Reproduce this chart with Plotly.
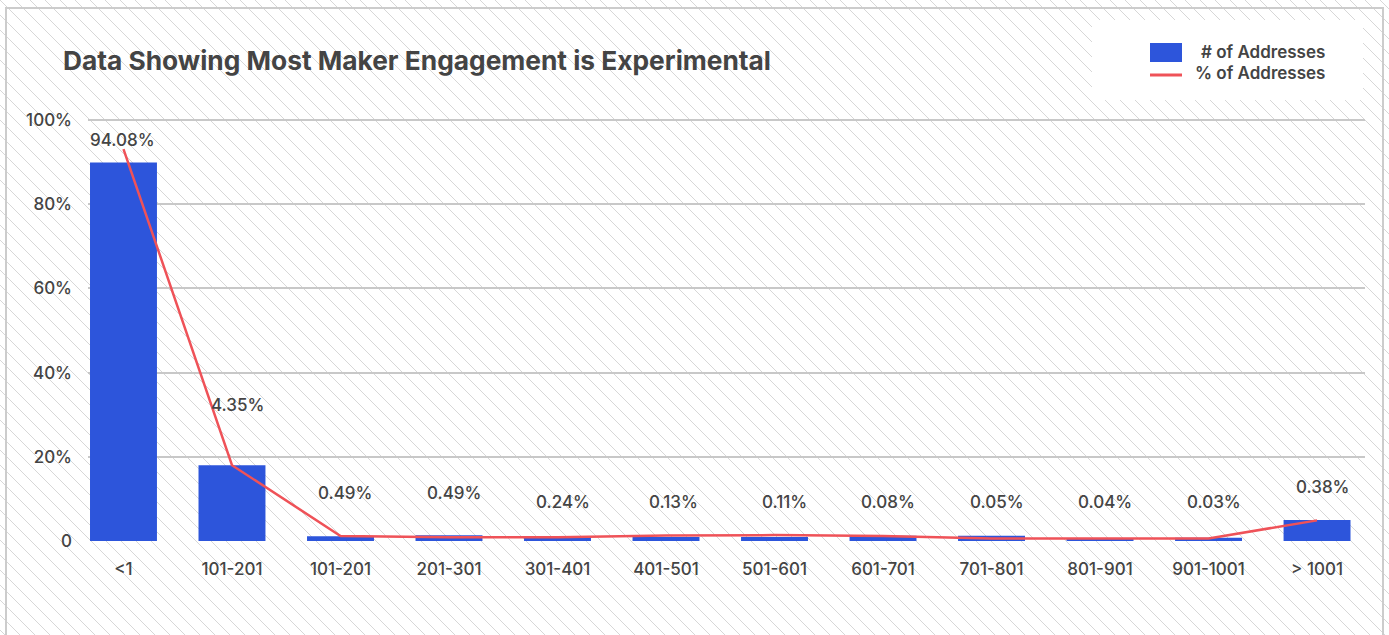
import base64
import plotly.graph_objects as go

# ---------------- data ----------------
categories = ["<1", "101-201", "101-201", "201-301", "301-401", "401-501",
              "501-601", "601-701", "701-801", "801-901", "901-1001", "> 1001"]
num_addresses = [89.9, 18.0, 1.1, 1.35, 1.2, 0.95, 0.95, 1.27, 1.27, 0.63, 0.8, 5.0]
pct_addresses = [93.1, 18.0, 1.2, 0.9, 0.9, 1.3, 1.4, 1.2, 0.6, 0.6, 0.6, 4.9]
pct_labels = ["94.08%", "4.35%", "0.49%", "0.49%", "0.24%", "0.13%",
              "0.11%", "0.08%", "0.05%", "0.04%", "0.03%", "0.38%"]
y_tickvals = [0, 20, 40, 60, 80, 100]
y_ticktext = ["0", "20%", "40%", "60%", "80%", "100%"]

# ---------------- style / layout ----------------
W, H = 1389, 635
BLUE = "#2D55DB"
RED = "#EF5258"
TEXT = "#444444"
GRID = "#c8c8c8"
FONT = "Inter"
label_level = [95.2, 32.2, 11.4, 11.4, 9.3, 9.3, 9.3, 9.3, 9.3, 9.3, 9.3, 12.8]

x_idx = list(range(len(categories)))

# hatched background as an svg image
svg = f'''<svg xmlns="http://www.w3.org/2000/svg" width="{W}" height="{H}" viewBox="0 0 {W} {H}">
<defs><pattern id="h" width="15" height="15" patternUnits="userSpaceOnUse">
<path d="M0,0 L15,15 M-2,13 L2,17 M13,-2 L17,2" stroke="#d7d7d7" stroke-width="1"/>
</pattern></defs>
<rect width="{W}" height="{H}" fill="white"/>
<rect width="{W}" height="{H}" fill="url(#h)"/>
</svg>'''
svg_uri = "data:image/svg+xml;base64," + base64.b64encode(svg.encode()).decode()

fig = go.Figure()
fig.add_trace(go.Bar(
    x=x_idx, y=num_addresses, name="# of Addresses",
    marker=dict(color=BLUE, line=dict(width=0)), width=0.617,
    showlegend=False, hoverinfo="y",
))
fig.add_trace(go.Scatter(
    x=x_idx, y=pct_addresses, name="% of Addresses", mode="lines",
    line=dict(color=RED, width=2.5), showlegend=False, hoverinfo="y",
))

annotations = []
for i, (t, lv) in enumerate(zip(pct_labels, label_level)):
    annotations.append(dict(
        x=i, y=lv, xref="x", yref="y", text=t, showarrow=False,
        xanchor="right", yanchor="middle", xshift=34,
        font=dict(family=FONT, size=17, weight=500, color=TEXT),
    ))

# title
annotations.append(dict(
    x=61 / W, y=1 - 60 / H, xref="paper", yref="paper", xanchor="left", yanchor="middle",
    text="<b>Data Showing Most Maker Engagement is Experimental</b>", showarrow=False,
    font=dict(family=FONT, size=26.3, color=TEXT),
))
# legend texts
for txt, yy in (("# of Addresses", 52), ("% of Addresses", 73)):
    annotations.append(dict(
        x=1327 / W, y=1 - yy / H, xref="paper", yref="paper", xanchor="right", yanchor="middle",
        text=txt, showarrow=False,
        font=dict(family=FONT, size=17, weight=600, color=TEXT),
    ))

shapes = [
    # outer border
    dict(type="rect", xref="paper", yref="paper", x0=6 / W, x1=1383 / W, y0=-0.1, y1=1 - 8 / H,
         line=dict(color="#cccccc", width=2), fillcolor="rgba(0,0,0,0)", layer="above"),
    # legend box
    dict(type="rect", xref="paper", yref="paper", x0=1092 / W, x1=1363 / W, y0=1 - 100 / H, y1=1 - 20 / H,
         line=dict(width=0), fillcolor="white", layer="above"),
    dict(type="rect", xref="paper", yref="paper", x0=1150 / W, x1=1182 / W, y0=1 - 62 / H, y1=1 - 43 / H,
         line=dict(width=0), fillcolor=BLUE, layer="above"),
    dict(type="line", xref="paper", yref="paper", x0=1150 / W, x1=1182 / W, y0=1 - 75 / H, y1=1 - 75 / H,
         line=dict(color=RED, width=3), layer="above"),
]

y_top = 100.4  # slight headroom so the 100% gridline is drawn
fig.update_layout(
    template="none",
    width=W, height=H,
    margin=dict(l=0, r=0, t=0, b=0, pad=0),
    paper_bgcolor="white", plot_bgcolor="rgba(0,0,0,0)",
    font=dict(family=FONT, color=TEXT),
    images=[dict(source=svg_uri, xref="paper", yref="paper", x=0, y=1, sizex=1, sizey=1,
                 sizing="stretch", xanchor="left", yanchor="top", layer="below")],
    xaxis=dict(domain=[88 / W, 1365 / W], range=[-0.327, 11.442], automargin=False,
               tickvals=x_idx, ticktext=categories, showgrid=False, zeroline=False,
               showline=False, ticks="", ticklabelstandoff=16,
               tickfont=dict(family=FONT, size=17, weight=500, color=TEXT), fixedrange=True),
    yaxis=dict(domain=[94 / H, (94 + 421 * y_top / 100) / H], range=[0, y_top], automargin=False,
               tickvals=y_tickvals, ticktext=y_ticktext, showgrid=True, gridcolor=GRID,
               gridwidth=1.5, zeroline=False, showline=False, ticks="", ticklabelstandoff=15,
               tickfont=dict(family=FONT, size=17, weight=500, color=TEXT), fixedrange=True),
    annotations=annotations,
    shapes=shapes,
    showlegend=False,
    hovermode="closest",
)

fig.write_html("out.html")
